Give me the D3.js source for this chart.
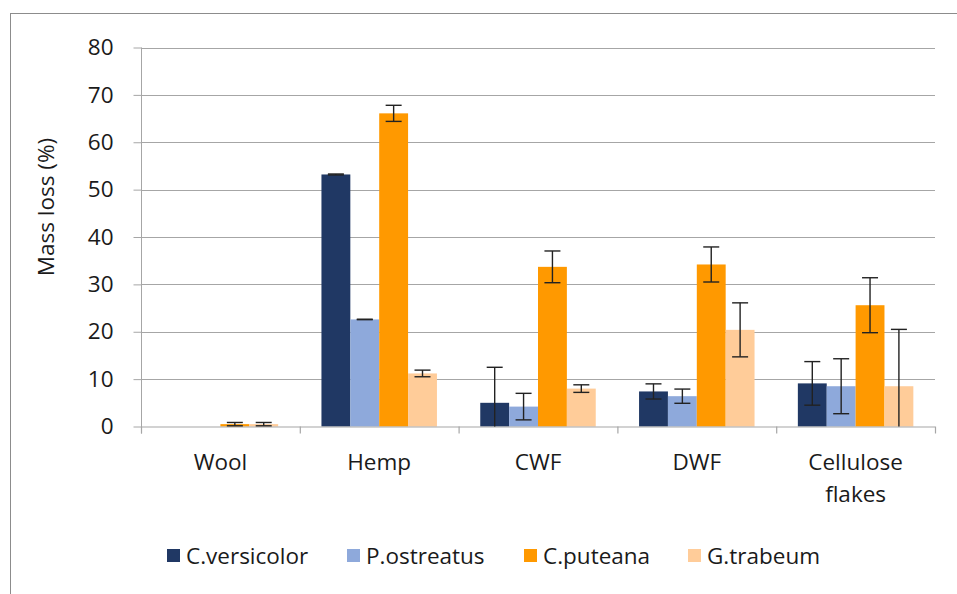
<!DOCTYPE html>
<html>
<head>
<meta charset="utf-8">
<script src="https://cdn.jsdelivr.net/npm/d3@7"></script>
<style>
  body { margin: 0; background: #fff; }
  svg { display: block; font-family: "Open Sans", Lato, sans-serif; }
</style>
</head>
<body>
<svg id="chart" width="957" height="594"></svg>
<script>
// Data
const categories = ["Wool", "Hemp", "CWF", "DWF", "Cellulose flakes"];
const species = ["C.versicolor", "P.ostreatus", "C.puteana", "G.trabeum"];
const colors = ["#203864", "#8EA9DB", "#FF9900", "#FFCC99"];

const cVersicolor = [0, 53.2, 5.0, 7.4, 9.1];
const cVersicolorErr = [0, 0.1, 7.5, 1.6, 4.6];
const pOstreatus = [0, 22.6, 4.2, 6.4, 8.5];
const pOstreatusErr = [0, 0.05, 2.8, 1.5, 5.8];
const cPuteana = [0.5, 66.1, 33.7, 34.2, 25.6];
const cPuteanaErr = [0.35, 1.7, 3.35, 3.7, 5.8];
const gTrabeum = [0.5, 11.2, 8.0, 20.4, 8.5];
const gTrabeumErr = [0.35, 0.7, 0.8, 5.7, 12];

const yTicks = [0, 10, 20, 30, 40, 50, 60, 70, 80];

const seriesValues = [cVersicolor, pOstreatus, cPuteana, gTrabeum];
const seriesErrors = [cVersicolorErr, pOstreatusErr, cPuteanaErr, gTrabeumErr];

// Flat table for the bars
const rows = [];
categories.forEach((c, i) => {
  species.forEach((s, j) => {
    rows.push({ cat: c, sp: s, value: seriesValues[j][i], err: seriesErrors[j][i] });
  });
});

const svg = d3.select("#chart");
const plotLeft = 141, plotRight = 935, plotTop = 47.5, plotBottom = 426.5;
const fontSize = 22.5;
const textColor = "#1a1a1a";

// outer chart frame (runs past the window on the right/bottom)
svg.append("rect")
  .attr("x", 10.5).attr("y", 13.5)
  .attr("width", 960).attr("height", 600)
  .attr("fill", "none").attr("stroke", "#8c8c8c").attr("stroke-width", 1);

const y = d3.scaleLinear().domain([0, 80]).range([plotBottom, plotTop]);
const x0 = d3.scaleBand().domain(categories).range([plotLeft, plotRight]).padding(0);
const bw = x0.bandwidth();
// Excel gap width 150%: group takes 4/(4+1.5) of the band
const groupPad = bw * 1.5 / 5.5 / 2;
const x1 = d3.scaleBand().domain(species).range([groupPad, bw - groupPad]).padding(0);
const color = d3.scaleOrdinal().domain(species).range(colors);

// gridlines
svg.append("g")
  .selectAll("line")
  .data(yTicks.filter(d => d > 0))
  .join("line")
  .attr("x1", plotLeft).attr("x2", plotRight)
  .attr("y1", d => Math.round(y(d)) + 0.5).attr("y2", d => Math.round(y(d)) + 0.5)
  .attr("stroke", "#a6a6a6").attr("stroke-width", 1.2);

// y axis
const yAxis = svg.append("g")
  .attr("transform", `translate(${plotLeft + 0.5},0)`)
  .call(d3.axisLeft(y).tickValues(yTicks).tickSize(8).tickPadding(20));
yAxis.select(".domain").attr("stroke", "#a6a6a6").attr("d", `M0,${plotTop}V${plotBottom + 7}`);
yAxis.selectAll(".tick line").attr("stroke", "#a6a6a6");
yAxis.selectAll(".tick text")
  .attr("font-size", fontSize).attr("fill", textColor)
  .attr("font-family", "'Open Sans', sans-serif");

// bars
svg.append("g")
  .selectAll("rect")
  .data(rows.filter(d => d.value > 0))
  .join("rect")
  .attr("x", d => x0(d.cat) + x1(d.sp))
  .attr("width", x1.bandwidth())
  .attr("y", d => y(d.value))
  .attr("height", d => y(0) - y(d.value))
  .attr("fill", d => color(d.sp));

// x axis (baseline with boundary ticks)
const xg = svg.append("g");
xg.append("line")
  .attr("x1", plotLeft).attr("x2", plotRight)
  .attr("y1", plotBottom + 0.5).attr("y2", plotBottom + 0.5)
  .attr("stroke", "#a6a6a6").attr("stroke-width", 1.2);
xg.selectAll("line.bt")
  .data(categories.map(c => x0(c)).concat([plotRight]))
  .join("line")
  .attr("class", "bt")
  .attr("x1", d => d + 0.5).attr("x2", d => d + 0.5)
  .attr("y1", plotBottom).attr("y2", plotBottom + 7)
  .attr("stroke", "#a6a6a6").attr("stroke-width", 1.2);

// error bars (clipped at the axis minimum like Excel)
const capW = 16;
const eg = svg.append("g").attr("stroke", "#222").attr("stroke-width", 1.4);
rows.filter(d => d.err > 0).forEach(d => {
  const cx = x0(d.cat) + x1(d.sp) + x1.bandwidth() / 2;
  const hi = d.value + d.err;
  const loRaw = d.value - d.err;
  const lo = Math.max(0, loRaw);
  eg.append("line").attr("x1", cx).attr("x2", cx).attr("y1", y(hi)).attr("y2", y(lo));
  eg.append("line").attr("x1", cx - capW / 2).attr("x2", cx + capW / 2).attr("y1", y(hi)).attr("y2", y(hi));
  if (loRaw >= 0) {
    eg.append("line").attr("x1", cx - capW / 2).attr("x2", cx + capW / 2).attr("y1", y(lo)).attr("y2", y(lo));
  }
});

// category labels
const cl = svg.append("g")
  .attr("font-size", fontSize).attr("fill", textColor).attr("text-anchor", "middle");
categories.forEach(c => {
  const t = cl.append("text").attr("y", 470);
  c.split(" ").forEach((w, i) => {
    t.append("tspan").attr("x", x0(c) + bw / 2).attr("dy", i === 0 ? 0 : 32).text(w);
  });
});

// y axis title
svg.append("text")
  .attr("transform", "translate(54,207) rotate(-90)")
  .attr("text-anchor", "middle")
  .attr("font-size", fontSize).attr("fill", textColor)
  .text("Mass loss (%)");

// legend
const legendX = [167, 347, 524, 688];
const lg = svg.append("g");
species.forEach((s, i) => {
  const g = lg.append("g").attr("transform", `translate(${legendX[i]},549)`);
  g.append("rect").attr("width", 13).attr("height", 13).attr("fill", color(s));
  g.append("text").attr("x", 19).attr("y", 14.5)
    .attr("font-size", fontSize).attr("fill", textColor).text(s);
});
</script>
</body>
</html>
